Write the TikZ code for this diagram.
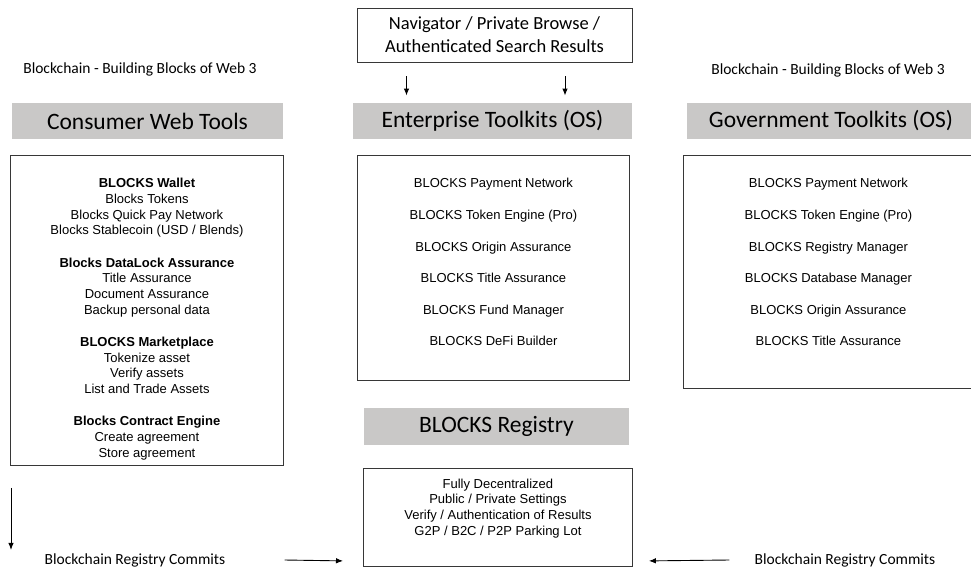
\documentclass[tikz,border=0pt]{standalone}
\usepackage{fontspec}
\setmainfont{Liberation Sans}
\newfontfamily\calfont{Carlito}
\usetikzlibrary{arrows.meta,positioning}
\definecolor{hdrgray}{RGB}{201,200,199}
\definecolor{lineblk}{RGB}{55,55,55}

\begin{document}
\begin{tikzpicture}[
        x=1pt, y=-1pt,
        >={Latex[length=7pt,width=5.5pt]},
        line width=.9pt,
        header/.style={fill=hdrgray, inner sep=0pt, minimum height=36pt, font=\calfont\fontsize{23.5}{28}\selectfont},
        frame/.style={draw=lineblk, inner sep=0pt, anchor=north west},
        itemlist/.style={align=center, anchor=north, inner sep=0pt, font=\fontsize{13}{15.7}\selectfont},
        caption/.style={inner sep=0pt, font=\calfont\fontsize{15.5}{19}\selectfont}
    ]

    \useasboundingbox (0,0) rectangle (971,570);
    \clip (0,0) rectangle (971,570);

    % Nodes
    \node (nav)[draw=lineblk, minimum width=275pt, minimum height=54pt, align=center,
        font=\calfont\fontsize{18.5}{23}\selectfont] at (494.5,35) {Navigator / Private Browse / \\
        Authenticated Search Results};

    \node (capl)[caption] at (140,69) {Blockchain - Building Blocks of Web 3};
    \node (capr)[caption] at (828,70) {Blockchain - Building Blocks of Web 3};

    \node (conshdr)[header, minimum width=271pt] at (147.5,121) {Consumer Web Tools};
    \node (enthdr)[header, minimum width=279pt] at (492.5,121) {Enterprise Toolkits (OS)};
    \node (govhdr)[header, minimum width=288pt] at (831,121) {Government Toolkits (OS)};

    \node (conspanel)[frame, minimum width=273pt, minimum height=310pt] at (10,155) {};
    \node (entpanel)[frame, minimum width=272pt, minimum height=225pt] at (357,155) {};
    \node (govpanel)[frame, minimum width=292pt, minimum height=233pt] at (683,155) {};

    \node (conslist)[itemlist, below=23pt of conspanel.north] {\textbf{BLOCKS Wallet} \\
        Blocks Tokens \\
        Blocks Quick Pay Network \\
        Blocks Stablecoin (USD / Blends) \\[16.5pt]
        \textbf{Blocks DataLock Assurance} \\
        Title Assurance \\
        Document Assurance \\
        Backup personal data \\[16.5pt]
        \textbf{BLOCKS Marketplace} \\
        Tokenize asset \\
        Verify assets \\
        List and Trade Assets \\[16.5pt]
        \textbf{Blocks Contract Engine} \\
        Create agreement \\
        Store agreement};

    \node (entlist)[itemlist, below=23pt of entpanel.north] {BLOCKS Payment Network \\[15.9pt]
        BLOCKS Token Engine (Pro) \\[15.9pt]
        BLOCKS Origin Assurance \\[15.9pt]
        BLOCKS Title Assurance \\[15.9pt]
        BLOCKS Fund Manager \\[15.9pt]
        BLOCKS DeFi Builder};

    \node (govlist)[itemlist, below=23pt of govpanel.north, xshift=-1pt] {BLOCKS Payment Network \\[15.9pt]
        BLOCKS Token Engine (Pro) \\[15.9pt]
        BLOCKS Registry Manager \\[15.9pt]
        BLOCKS Database Manager \\[15.9pt]
        BLOCKS Origin Assurance \\[15.9pt]
        BLOCKS Title Assurance};

    \node (reghdr)[header, minimum width=265pt, minimum height=37pt] at (496.5,426.5) {BLOCKS Registry};
    \node (regpanel)[frame, minimum width=269pt, minimum height=98pt] at (363,468) {};
    \node (reglist)[itemlist, below=10.3pt of regpanel.north] {Fully Decentralized \\
        Public / Private Settings \\
        Verify / Authentication of Results \\
        G2P / B2C / P2P Parking Lot};

    \node (commitl)[caption] at (135,560) {Blockchain Registry Commits};
    \node (commitr)[caption] at (845,560) {Blockchain Registry Commits};

    % Edges
    \draw[->] ([xshift=-88pt,yshift=-14pt]nav.south) -- ([xshift=-86pt,yshift=7pt]enthdr.north);
    \draw[->] ([xshift=70.5pt,yshift=-14pt]nav.south) -- ([xshift=72.5pt,yshift=7pt]enthdr.north);
    \draw[->] ([xshift=1pt,yshift=-22pt]conspanel.south west) -- ([xshift=1pt,yshift=-84pt]conspanel.south west);
    \draw[->] ([xshift=59pt]commitl.east) -- ([xshift=-20pt,yshift=6pt]regpanel.south west);
    \draw[->] ([xshift=-25pt]commitr.west) -- ([xshift=16pt,yshift=6pt]regpanel.south east);

\end{tikzpicture}
\end{document}
